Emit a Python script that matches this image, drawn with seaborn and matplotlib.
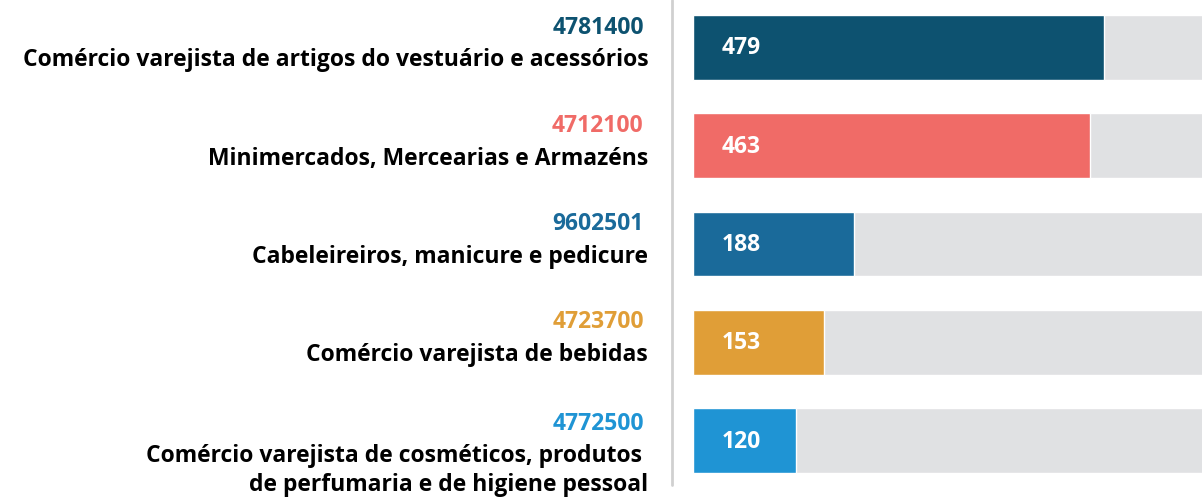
import pandas as pd
import matplotlib.pyplot as plt
import seaborn as sns
from matplotlib.transforms import blended_transform_factory

codes = ["4781400", "4712100", "9602501", "4723700", "4772500"]
descriptions = [
    "Comércio varejista de artigos do vestuário e acessórios",
    "Minimercados, Mercearias e Armazéns",
    "Cabeleireiros, manicure e pedicure",
    "Comércio varejista de bebidas",
    "Comércio varejista de cosméticos, produtos \nde perfumaria e de higiene pessoal",
]
values = [479, 463, 188, 153, 120]
track_max = 600
colors = ["#0d5270", "#f06b67", "#1a6a9a", "#e09e37", "#1f94d4"]

df = pd.DataFrame({"code": codes, "value": values, "track": [track_max] * len(codes)})

sns.set_style("white")
plt.rcParams["font.family"] = ["Open Sans", "DejaVu Sans"]

fig = plt.figure(figsize=(12.02, 4.98), dpi=100)
ax = fig.add_axes([693 / 1202, 0, 1 - 693 / 1202, 1])

# grey track behind each bar
sns.barplot(data=df, y="code", x="track", color="#e0e1e3", width=0.66,
            orient="h", saturation=1, ax=ax)
sns.barplot(data=df, y="code", x="value", hue="code", palette=colors,
            width=0.66, orient="h", saturation=1, legend=False, ax=ax)

ax.set_xlim(0, 593)
ax.set_ylim(4.585, -0.483)
ax.set_xlabel("")
ax.set_ylabel("")
ax.set_xticks([])
ax.set_yticks([])
sns.despine(ax=ax, left=True, bottom=True)

# values inside the bars
for i, v in enumerate(values):
    ax.annotate(str(v), xy=(0, i), xytext=(29, -1), textcoords="offset pixels",
                ha="left", va="center", color="white", fontsize=16.5,
                fontweight="bold")

# labels on the left
tr = blended_transform_factory(ax.transAxes, ax.transData)
for i, (c, d) in enumerate(zip(codes, descriptions)):
    extra = 0.03 if "\n" in d else 0
    ax.text(-0.097, i - 0.14 + extra, c, transform=tr, ha="right", va="baseline",
            color=colors[i], fontsize=16.5, fontweight="bold")
    ax.text(-0.088, i + 0.01 + extra, d, transform=tr, ha="right", va="top",
            color="black", fontsize=16.5, fontweight="bold", linespacing=1.28)

# thin divider line
fig.add_artist(plt.Line2D([672 / 1202, 672 / 1202], [1 - 485 / 498, 1],
                          transform=fig.transFigure, color="#d0d0d0", lw=2))

plt.savefig("out.png", dpi=100)
plt.close()
